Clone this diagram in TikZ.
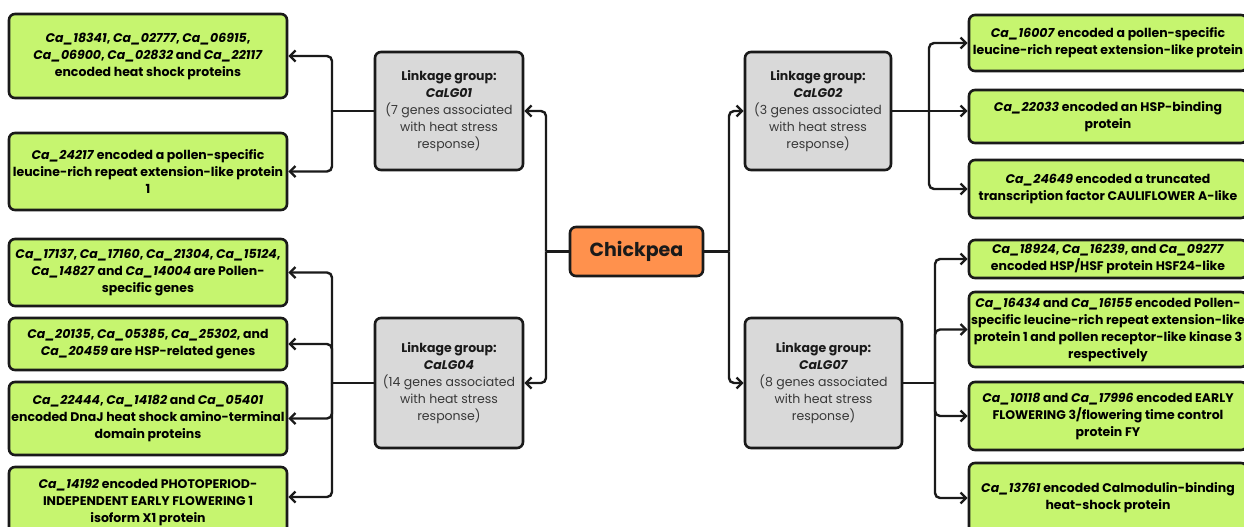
\documentclass[tikz,border=0pt]{standalone}
\usepackage{fontspec}
\setmainfont{Poppins}
\usetikzlibrary{arrows.meta}
\definecolor{lime}{HTML}{C6F56F}
\definecolor{orng}{HTML}{FF914D}
\definecolor{grayfill}{HTML}{D9D9D9}
\definecolor{bd}{HTML}{1A1A1A}
\definecolor{gtext}{HTML}{383838}
\newcommand\gfont{\fontsize{12.5}{17}\selectfont\bfseries}
\newcommand\lgfont{\fontsize{12.5}{17}\selectfont\color{gtext}}
\newcommand\cafont{\fontsize{19}{22}\selectfont\bfseries}
\newcommand\gi[1]{\textit{#1}}
\tikzset{
  box/.style={draw=bd, line width=2.6pt, rounded corners=6pt, align=center, inner sep=0pt},
  gbox/.style={box, fill=lime, font=\gfont, minimum width=278pt},
  lgbox/.style={box, fill=grayfill, font=\lgfont},
  chbox/.style={box, fill=orng, font=\cafont, text=bd},
  ln/.style={draw=bd, line width=2.4pt, rounded corners=5pt},
  arr/.style={ln, -{Straight Barb[length=5.5pt,width=11pt]}},
}
\begin{document}
\begin{tikzpicture}[x=1pt,y=-1pt]
\useasboundingbox[fill=white] (0,0) rectangle (1244,527);
% central node
\node[chbox, minimum width=133pt, minimum height=49pt] (chick) at (636.5,251.5) {Chickpea};
% linkage groups
\node[lgbox, minimum width=148pt, minimum height=118pt] (G1) at (449,111)
  {\textbf{\color{bd}Linkage group:}\\ \textbf{\color{bd}\gi{CaLG01}}\\ (7 genes associated\\ with heat stress\\ response)};
\node[lgbox, minimum width=148pt, minimum height=130pt] (G4) at (449,383)
  {\textbf{\color{bd}Linkage group:}\\ \textbf{\color{bd}\gi{CaLG04}}\\ (14 genes associated\\ with heat stress\\ response)};
\node[lgbox, minimum width=146pt, minimum height=118pt] (G2) at (818,111)
  {\textbf{\color{bd}Linkage group:}\\ \textbf{\color{bd}\gi{CaLG02}}\\ (3 genes associated\\ with heat stress\\ response)};
\node[lgbox, minimum width=157pt, minimum height=130pt] (G7) at (823.5,383)
  {\textbf{\color{bd}Linkage group:}\\ \textbf{\color{bd}\gi{CaLG07}}\\ (8 genes associated\\ with heat stress\\ response)};
% left gene boxes
\node[gbox, minimum height=84pt] (A1) at (148,56)
  {\gi{Ca\_18341}, \gi{Ca\_02777}, \gi{Ca\_06915},\\ \gi{Ca\_06900}, \gi{Ca\_02832} and \gi{Ca\_22117}\\ encoded heat shock proteins};
\node[gbox, minimum height=77pt] (A2) at (148,171.5)
  {\gi{Ca\_24217} encoded a pollen-specific\\ leucine-rich repeat extension-like protein\\ 1};
\node[gbox, minimum height=67pt] (D1) at (148,272.5)
  {\gi{Ca\_17137}, \gi{Ca\_17160}, \gi{Ca\_21304}, \gi{Ca\_15124},\\ \gi{Ca\_14827} and \gi{Ca\_14004} are Pollen-\\ specific genes};
\node[gbox, minimum height=52pt] (D2) at (148,344)
  {\gi{Ca\_20135}, \gi{Ca\_05385}, \gi{Ca\_25302}, and\\ \gi{Ca\_20459} are HSP-related genes};
\node[gbox, minimum height=73pt] (D3) at (148,418.5)
  {\gi{Ca\_22444}, \gi{Ca\_14182} and \gi{Ca\_05401}\\ encoded DnaJ heat shock amino-terminal\\ domain proteins};
\node[gbox, minimum height=70pt] (D4) at (148,502)
  {\gi{Ca\_14192} encoded PHOTOPERIOD-\\ INDEPENDENT EARLY FLOWERING 1\\ isoform X1 protein};
% right gene boxes
\node[gbox, minimum height=56pt] (B1) at (1108,43)
  {\gi{Ca\_16007} encoded a pollen-specific\\ leucine-rich repeat extension-like protein};
\node[gbox, minimum height=53pt] (B2) at (1108,116.5)
  {\gi{Ca\_22033} encoded an HSP-binding\\ protein};
\node[gbox, minimum height=58pt] (B3) at (1108,189)
  {\gi{Ca\_24649} encoded a truncated\\ transcription factor CAULIFLOWER A-like};
\node[gbox, minimum height=38pt] (C1) at (1108,259)
  {\gi{Ca\_18924}, \gi{Ca\_16239}, and \gi{Ca\_09277}\\ encoded HSP/HSF protein HSF24-like};
\node[gbox, minimum height=75pt] (C2) at (1108,329.5)
  {\gi{Ca\_16434} and \gi{Ca\_16155} encoded Pollen-\\ specific leucine-rich repeat extension-like\\ protein 1 and pollen receptor-like kinase 3\\ respectively};
\node[gbox, minimum height=68pt] (C3) at (1108,416)
  {\gi{Ca\_10118} and \gi{Ca\_17996} encoded EARLY\\ FLOWERING 3/flowering time control\\ protein FY};
\node[gbox, minimum height=70pt] (C4) at (1108,498)
  {\gi{Ca\_13761} encoded Calmodulin-binding\\ heat-shock protein};
% junctions
\coordinate (jC1) at (546,251.5);
\coordinate (jC2) at (729,251.5);
\coordinate (jL1) at (332,111);
\coordinate (jL4) at (332,383);
\coordinate (jR2) at (929,111);
\coordinate (jR7) at (935,383);
% connectors
\draw[ln] (chick.west) -- (jC1);
\draw[arr] (jC1) |- (G1.east);
\draw[arr] (jC1) |- (G4.east);
\draw[ln] (chick.east) -- (jC2);
\draw[arr] (jC2) |- (G2.west);
\draw[arr] (jC2) |- (G7.west);
\draw[ln] (G1.west) -- (jL1);
\draw[arr] (jL1) |- (A1.east);
\draw[arr] (jL1) |- (A2.east);
\draw[ln] (G4.west) -- (jL4);
\draw[arr] (jL4) |- (D1.east);
\draw[arr] (jL4) |- (D2.east);
\draw[arr] (jL4) |- (D3.east);
\draw[arr] (jL4) |- ([yshift=5pt]D4.east);
\draw[ln] (G2.east) -- (jR2);
\draw[arr] (jR2) |- (B1.west);
\draw[arr] (jR2) -- (jR2 -| B2.west);
\draw[arr] (jR2) |- (B3.west);
\draw[ln] (G7.east) -- (jR7);
\draw[arr] (jR7) |- (C1.west);
\draw[arr] (jR7) |- (C2.west);
\draw[arr] (jR7) |- (C3.west);
\draw[arr] (jR7) |- (C4.west);
\end{tikzpicture}
\end{document}
